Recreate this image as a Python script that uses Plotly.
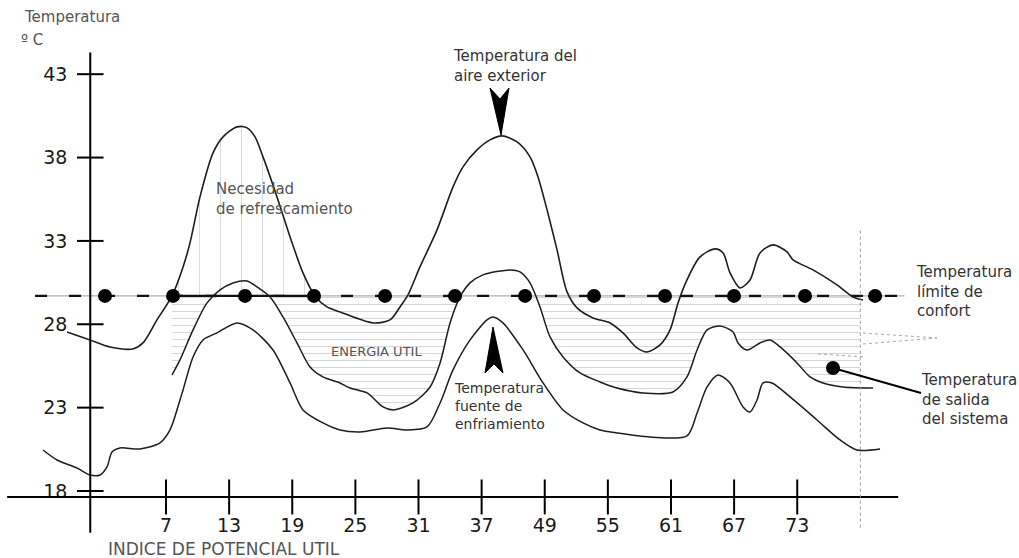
import numpy as np
import plotly.graph_objects as go

# ---------------- data (x in equally spaced "position" units) ----------------
tick_pos = [7, 13, 19, 25, 31, 37, 43, 49, 55, 61, 67]
tick_text = ["7", "13", "19", "25", "31", "37", "49", "55", "61", "67", "73"]
y_ticks = [18, 23, 28, 33, 38, 43]

comfort = 29.7

# Temperatura del aire exterior
air_x = [-2.41, -0.22, 1.68, 3.86, 4.81, 6.14, 7.57, 8.62, 9.28, 10.23, 11.47, 12.42, 13.75,
         14.70, 15.46, 16.22, 17.55, 18.79, 20.02, 21.16, 22.30, 23.54, 26.68, 28.29, 29.24,
         30.00, 31.14, 32.76, 34.28, 35.23, 36.56, 37.80, 38.94, 40.37, 41.60, 42.36, 43.22,
         44.17, 45.12, 46.07, 47.59, 49.21, 50.44, 51.77, 52.72, 53.96, 54.91, 55.67, 56.52,
         57.76, 59.19, 59.95, 60.61, 61.56, 62.51, 63.46, 64.70, 66.03, 66.60, 68.50, 70.78,
         72.30, 73.25]
air_y = [27.54, 27.06, 26.64, 26.52, 26.88, 28.26, 29.70, 31.44, 32.88, 35.64, 38.28, 39.24,
         39.84, 39.78, 39.24, 38.04, 35.64, 33.24, 31.08, 29.70, 29.04, 28.74, 28.08, 28.26,
         29.04, 29.76, 31.44, 33.66, 36.24, 37.44, 38.46, 39.06, 39.30, 38.94, 38.04, 36.84,
         34.86, 32.46, 29.94, 28.98, 28.38, 28.08, 27.48, 26.58, 26.34, 26.76, 27.66, 29.28,
         30.66, 32.04, 32.52, 32.28, 31.08, 30.18, 30.66, 32.28, 32.76, 32.34, 31.86, 31.26,
         30.36, 29.64, 29.46]

# Temperatura de salida del sistema
out_x = [7.57, 8.33, 9.57, 10.90, 12.13, 13.37, 14.70, 15.65, 16.89, 18.12, 19.45, 20.69,
         21.92, 23.54, 24.49, 26.11, 27.63, 28.58, 30.48, 32.10, 33.05, 34.00, 34.95, 35.90,
         37.13, 39.70, 40.65, 41.60, 42.55, 43.50, 44.74, 46.35, 48.25, 49.87, 52.34, 55.19,
         56.52, 57.48, 58.43, 59.66, 60.90, 61.37, 62.23, 63.46, 64.41, 65.37, 66.98, 68.22,
         69.45, 71.35, 74.21]
out_y = [24.96, 25.86, 27.66, 29.28, 30.06, 30.48, 30.60, 30.24, 29.64, 28.44, 26.88, 25.44,
         24.84, 24.48, 24.18, 23.88, 23.04, 22.86, 23.28, 24.24, 25.68, 28.08, 29.64, 30.48,
         30.96, 31.26, 31.14, 30.48, 29.04, 27.24, 26.04, 25.08, 24.54, 24.18, 23.88, 23.94,
         24.84, 26.46, 27.66, 27.90, 27.54, 26.88, 26.46, 26.88, 27.06, 26.64, 25.68, 24.84,
         24.48, 24.24, 24.18]

# Temperatura fuente de enfriamiento
src_x = [-4.69, -3.36, -1.46, -0.22, 0.73, 1.39, 1.87, 2.63, 4.53, 6.43, 7.38, 8.33, 8.62,
         9.57, 10.52, 11.85, 13.75, 15.27, 17.17, 18.79, 20.02, 21.92, 23.54, 25.44, 28.01,
         29.91, 31.81, 33.05, 34.28, 35.90, 37.51, 38.08, 39.03, 40.94, 42.84, 44.74, 46.64,
         48.25, 49.87, 53.01, 56.52, 57.48, 58.43, 59.47, 60.61, 61.85, 62.51, 63.18, 63.75,
         64.60, 66.32, 68.88, 71.07, 72.68, 74.87]
src_y = [20.46, 19.86, 19.38, 18.96, 18.96, 19.44, 20.34, 20.58, 20.52, 20.88, 21.66, 23.46,
         24.06, 26.04, 27.06, 27.48, 28.08, 27.66, 26.46, 24.48, 22.86, 22.08, 21.66, 21.54,
         21.78, 21.66, 21.84, 23.28, 25.26, 27.06, 28.26, 28.44, 28.08, 26.46, 24.48, 22.86,
         22.08, 21.66, 21.48, 21.24, 21.30, 22.68, 24.24, 24.96, 24.48, 23.04, 22.74, 23.46,
         24.48, 24.48, 23.64, 22.26, 21.06, 20.46, 20.52]

dot_x = [1.20, 7.67, 14.51, 21.07, 27.82, 34.47, 41.13, 47.68, 54.43, 60.99, 67.74, 74.40]
outlet_x, outlet_y = [70.4], [25.38]

need_span = [7.57, 21.16]
energy_end = 73.0
comfort_span = [-5.45, 77.2]

# ---------------- frame ----------------
W, H = 1019, 558
XMIN, XMAX = -8.78, 88.08
YMIN, YMAX = 13.98, 47.45
AX_X = -0.2       # position of vertical axis
AX_Y = 17.64      # position of horizontal axis
FONT = "DejaVu Sans"


def P(px, py):
    return px / W, 1 - py / H


fig = go.Figure()

# hatched: Necesidad de refrescamiento
nx = [need_span[0]] + [x for x in air_x if need_span[0] <= x <= need_span[1]] + [need_span[1]]
ny = [comfort] + [max(y, comfort) for x, y in zip(air_x, air_y) if need_span[0] <= x <= need_span[1]] + [comfort]
fig.add_trace(go.Scatter(x=nx, y=ny, mode="lines", fill="toself", line=dict(width=0),
                         fillcolor="rgba(0,0,0,0)",
                         fillpattern=dict(shape="|", fgcolor="#b8b8b8", bgcolor="rgba(0,0,0,0)",
                                          size=21, solidity=0.05),
                         hoverinfo="skip", showlegend=False))

# hatched: ENERGIA UTIL
end_y = float(np.interp(energy_end, out_x, out_y))
ex = [out_x[0]] + [x for x in out_x if x <= energy_end] + [energy_end, energy_end]
ey = [comfort] + [min(y, comfort) for x, y in zip(out_x, out_y) if x <= energy_end] + [end_y, comfort]
fig.add_trace(go.Scatter(x=ex, y=ey, mode="lines", fill="toself", line=dict(width=0),
                         fillcolor="rgba(0,0,0,0)",
                         fillpattern=dict(shape="-", fgcolor="#ababab", bgcolor="rgba(0,0,0,0)",
                                          size=7, solidity=0.14),
                         hoverinfo="skip", showlegend=False))

# comfort line (thin grey + black dashes)
fig.add_trace(go.Scatter(x=comfort_span, y=[comfort, comfort], mode="lines",
                         line=dict(color="#9a9a9a", width=1), hoverinfo="skip", showlegend=False))
fig.add_trace(go.Scatter(x=comfort_span, y=[comfort, comfort], mode="lines",
                         line=dict(color="#111", width=2.4, dash="12px,22px"),
                         hoverinfo="skip", showlegend=False))
fig.add_trace(go.Scatter(x=need_span, y=[comfort, comfort], mode="lines",
                         line=dict(color="#111", width=2.2), hoverinfo="skip", showlegend=False))

# curves
for xs, ys, w in [(air_x, air_y, 1.6), (out_x, out_y, 1.5), (src_x, src_y, 1.5)]:
    fig.add_trace(go.Scatter(x=xs, y=ys, mode="lines",
                             line=dict(color="#1e1e1e", width=w, shape="spline", smoothing=0.8),
                             hoverinfo="skip", showlegend=False))

# dots on comfort line
fig.add_trace(go.Scatter(x=dot_x, y=[comfort] * len(dot_x), mode="markers",
                         marker=dict(color="black", size=14), hoverinfo="skip", showlegend=False))
fig.add_trace(go.Scatter(x=outlet_x, y=outlet_y, mode="markers",
                         marker=dict(color="black", size=14), hoverinfo="skip", showlegend=False))

# tick marks crossing the axes
fig.add_trace(go.Scatter(x=tick_pos, y=[AX_Y] * len(tick_pos), mode="markers",
                         marker=dict(symbol="line-ns", size=25, line=dict(width=2, color="black")),
                         hoverinfo="skip", showlegend=False))
fig.add_trace(go.Scatter(x=[AX_X] * len(y_ticks), y=y_ticks, mode="markers",
                         marker=dict(symbol="line-ew", size=19, line=dict(width=2, color="black")),
                         hoverinfo="skip", showlegend=False))

shapes = [
    dict(type="line", xref="x", yref="y", x0=AX_X, x1=AX_X, y0=15.5, y1=44.3,
         line=dict(color="black", width=2)),
    dict(type="line", xref="x", yref="y", x0=-8.1, x1=76.6, y0=AX_Y, y1=AX_Y,
         line=dict(color="black", width=2)),
    dict(type="line", xref="x", yref="y", x0=energy_end, x1=energy_end, y0=15.8, y1=33.8,
         line=dict(color="#9a9a9a", width=1, dash="dot")),
]


def path(pts):
    return "M " + " L ".join(f"{P(a, b)[0]:.5f},{P(a, b)[1]:.5f}" for a, b in pts) + " Z"


# arrowheads
shapes.append(dict(type="path", xref="paper", yref="paper",
                   path=path([(490, 88), (500, 99), (509, 88), (501, 135)]),
                   fillcolor="black", line=dict(color="black", width=1)))
shapes.append(dict(type="path", xref="paper", yref="paper",
                   path=path([(493, 327), (503, 373), (494, 364), (485, 373)]),
                   fillcolor="black", line=dict(color="black", width=1)))
# leader to outlet label
x0p, y0p = P(833, 368)
x1p, y1p = P(921, 393)
shapes.append(dict(type="line", xref="paper", yref="paper", x0=x0p, y0=y0p, x1=x1p, y1=y1p,
                   line=dict(color="black", width=2)))
# small grey wedge of the hatch at the right
for (a, b), (c, d) in [((863, 333), (937, 338)), ((863, 344), (937, 338)), ((818, 354), (866, 357))]:
    xa, ya = P(a, b)
    xc, yc = P(c, d)
    shapes.append(dict(type="line", xref="paper", yref="paper", x0=xa, y0=ya, x1=xc, y1=yc,
                       line=dict(color="#a8a8a8", width=1, dash="dot")))

annotations = []


def label(text, px, py, size=15, color="#333"):
    x, y = P(px, py)
    annotations.append(dict(text=text, x=x, y=y, xref="paper", yref="paper", showarrow=False,
                            xanchor="left", yanchor="middle", align="left",
                            font=dict(family=FONT, size=size, color=color)))


label("Temperatura", 22, 17, 15, "#555")
label("º C", 19, 40, 15, "#555")
label("Temperatura del<br>aire exterior", 451, 66, 15, "#333")
label("Necesidad<br>de refrescamiento", 214, 199, 15, "#555")
label("ENERGIA UTIL", 329, 351, 13, "#555")
label("Temperatura<br>fuente de<br>enfriamiento", 452, 406, 14, "#333")
label("Temperatura<br>límite de<br>confort", 914, 291, 15, "#333")
label("Temperatura<br>de salida<br>del sistema", 919, 399, 15, "#333")
label("INDICE DE POTENCIAL UTIL", 106, 549, 17, "#555")

fig.update_layout(
    width=W, height=H, autosize=False,
    margin=dict(l=0, r=0, t=0, b=0, pad=0),
    paper_bgcolor="white", plot_bgcolor="white",
    showlegend=False,
    shapes=shapes, annotations=annotations,
    xaxis=dict(range=[XMIN, XMAX], tickmode="array", tickvals=tick_pos, ticktext=tick_text,
               anchor="free", position=(AX_Y - YMIN) / (YMAX - YMIN), side="bottom",
               ticks="outside", ticklen=11, tickcolor="rgba(0,0,0,0)",
               tickfont=dict(family=FONT, size=19, color="#1a1a1a"),
               showline=False, showgrid=False, zeroline=False, fixedrange=True),
    yaxis=dict(range=[YMIN, YMAX], tickmode="array", tickvals=y_ticks,
               anchor="free", position=(AX_X - XMIN) / (XMAX - XMIN), side="left",
               ticks="outside", ticklen=19, tickcolor="rgba(0,0,0,0)",
               tickfont=dict(family=FONT, size=19, color="#1a1a1a"),
               showline=False, showgrid=False, zeroline=False, fixedrange=True),
)

# the page's default 8px body margin would shift the chart; remove it
fig.write_html("out.html", config={"displayModeBar": False},
               post_script="document.body.style.margin='0';")
